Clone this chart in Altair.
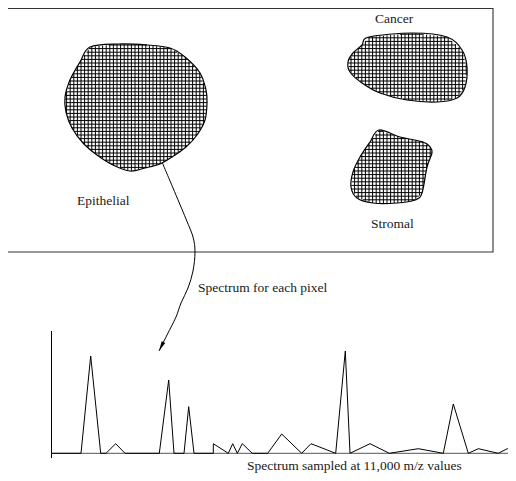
import math
import altair as alt
import pandas as pd

# ---------------- data (diagram coordinates, px) ----------------
box_x = [7, 493]
box_y = [8.5, 252]

epi_x = [90, 118, 147, 170, 185, 200, 206, 207, 205, 197, 186, 172, 160, 145, 130, 113, 97, 83, 72, 66, 65, 70, 80]
epi_y = [47, 44, 45, 48, 57, 73, 90, 103, 120, 135, 147, 157, 164, 168, 171, 165, 155, 143, 128, 112, 97, 80, 62]

cancer_x = [369, 413, 447, 462, 467, 465, 457, 437, 407, 380, 362, 350, 348, 353, 362]
cancer_y = [37, 33, 37, 50, 67, 87, 98, 102, 100, 93, 83, 72, 62, 53, 45]

stromal_x = [379, 400, 423, 430, 432, 427, 422, 415, 397, 373, 357, 351, 353, 360, 370]
stromal_y = [130, 137, 142, 147, 153, 167, 193, 200, 203, 203, 198, 187, 172, 157, 142]

curve_x = [162, 173, 186, 193, 195, 193, 188, 181, 176, 167, 159]
curve_y = [162, 188, 219, 237, 252, 271, 288, 303, 317, 335, 351]

spec_x = [51.7, 81, 90.7, 100.7, 106, 115.7, 125, 159.3, 168.7, 174, 184, 188.7, 194, 213.3, 213.3,
          228.3, 232.7, 237.3, 242.3, 252.3, 267.7, 281.7, 301.7, 311, 335.7, 345.3, 350, 370,
          389.3, 418.3, 443.3, 453.3, 468.3, 478.3, 498.3, 507.3, 516]
spec_y = [453.3, 453.3, 356, 453.3, 453.3, 443.7, 453.3, 453.3, 380, 453.3, 453.3, 406.7, 453.3, 453.3, 443.7,
          453.3, 443.7, 453.3, 443.7, 453.3, 453.3, 434, 453.3, 443.7, 453.3, 351, 453.3, 443.7,
          453.3, 448.7, 453.3, 404, 453.3, 448.7, 453.3, 448.7, 453.3]

axis_x = [51.5, 516]
axis_y = [331, 458]
baseline_y = 453.3

label_text = ["Cancer", "Epithelial", "Stromal", "Spectrum for each pixel", "Spectrum sampled at 11,000 m/z values"]
label_x = [375, 77, 371, 198, 247]
label_y = [23, 205, 228, 292, 470]

HATCH = 3.6


def clip_lines(xs, ys, spacing, vertical):
    pts = list(zip(xs, ys))
    n = len(pts)
    segs = []
    if vertical:
        lo, hi = min(xs), max(xs)
    else:
        lo, hi = min(ys), max(ys)
    c = math.floor(lo / spacing) * spacing + spacing / 2
    while c < hi:
        cuts = []
        for i in range(n):
            (x1, y1), (x2, y2) = pts[i], pts[(i + 1) % n]
            a1, a2 = (x1, x2) if vertical else (y1, y2)
            b1, b2 = (y1, y2) if vertical else (x1, x2)
            if (a1 <= c < a2) or (a2 <= c < a1):
                t = (c - a1) / (a2 - a1)
                cuts.append(b1 + t * (b2 - b1))
        cuts.sort()
        for k in range(0, len(cuts) - 1, 2):
            if vertical:
                segs.append(dict(x=c, y=cuts[k], x2=c, y2=cuts[k + 1]))
            else:
                segs.append(dict(x=cuts[k], y=c, x2=cuts[k + 1], y2=c))
        c += spacing
    return segs


shapes = {"Epithelial": (epi_x, epi_y), "Cancer": (cancer_x, cancer_y), "Stromal": (stromal_x, stromal_y)}
outline_rows, hatch_rows = [], []
for name, (xs, ys) in shapes.items():
    for i, (x, y) in enumerate(zip(xs, ys)):
        outline_rows.append(dict(shape=name, order=i, x=x, y=y))
    hatch_rows += clip_lines(xs, ys, HATCH, True)
    hatch_rows += clip_lines(xs, ys, HATCH, False)

outline_df = pd.DataFrame(outline_rows)
hatch_df = pd.DataFrame(hatch_rows)
curve_df = pd.DataFrame(dict(x=curve_x, y=curve_y, order=range(len(curve_x))))
spec_df = pd.DataFrame(dict(x=spec_x, y=spec_y, order=range(len(spec_x))))
label_df = pd.DataFrame(dict(text=label_text, x=label_x, y=label_y))

# arrow head from the last two curve points
dx = curve_x[-1] - curve_x[-2]
dy = curve_y[-1] - curve_y[-2]
L = math.hypot(dx, dy)
head_len = 5.0
head_df = pd.DataFrame(dict(x=[curve_x[-1] - head_len * dx / L], y=[curve_y[-1] - head_len * dy / L]))
head_angle = math.degrees(math.atan2(-dx, dy)) % 360

X = alt.Scale(domain=[8, 508])
Y = alt.Scale(domain=[8, 473], reverse=True)
xq = lambda f="x": alt.X(f, type="quantitative", scale=X, axis=None)
yq = lambda f="y": alt.Y(f, type="quantitative", scale=Y, axis=None)

box = alt.Chart(pd.DataFrame(dict(x=[box_x[0]], x2=[box_x[1]], y=[box_y[0]], y2=[box_y[1]]))).mark_rect(
    fill=None, stroke="#333333", strokeWidth=1.1
).encode(x=xq(), x2="x2", y=yq(), y2="y2")

hatch = alt.Chart(hatch_df).mark_rule(color="black", strokeWidth=1.0).encode(
    x=xq(), y=yq(), x2="x2", y2="y2"
)

outline = alt.Chart(outline_df).mark_line(
    interpolate="cardinal-closed", color="black", strokeWidth=1.2
).encode(x=xq(), y=yq(), detail="shape:N", order="order:Q")

curve = alt.Chart(curve_df).mark_line(interpolate="cardinal", color="black", strokeWidth=1).encode(
    x=xq(), y=yq(), order="order:Q"
)

head = alt.Chart(head_df).mark_point(
    shape="M0,1L-0.4,-1L0.4,-1Z", filled=True, color="black", opacity=1,
    size=(2 * head_len) ** 2, angle=head_angle
).encode(x=xq(), y=yq())

axes_df = pd.DataFrame(dict(x=[axis_x[0]], y=[axis_y[0]], y2=[axis_y[1]]))
yaxis = alt.Chart(axes_df).mark_rule(color="black", strokeWidth=1).encode(x=xq(), y=yq(), y2="y2")
xaxis = alt.Chart(pd.DataFrame(dict(x=[axis_x[0]], x2=[axis_x[1]], y=[baseline_y]))).mark_rule(
    color="#777777", strokeWidth=1.3
).encode(x=xq(), x2="x2", y=yq())

spectrum = alt.Chart(spec_df).mark_line(color="black", strokeWidth=1).encode(
    x=xq(), y=yq(), order="order:Q"
)

labels = alt.Chart(label_df).mark_text(
    font="Liberation Serif, Times New Roman, serif", fontSize=13.5, align="left",
    baseline="alphabetic", color="#1a1a1a"
).encode(x=xq(), y=yq(), text="text:N")

chart = alt.layer(box, hatch, outline, curve, head, yaxis, xaxis, spectrum, labels).properties(
    width=500, height=465, padding=0, autosize=alt.AutoSizeParams(type="none")
).configure_view(stroke=None)

chart.save("out.html", embed_options={"renderer": "svg", "actions": False})
